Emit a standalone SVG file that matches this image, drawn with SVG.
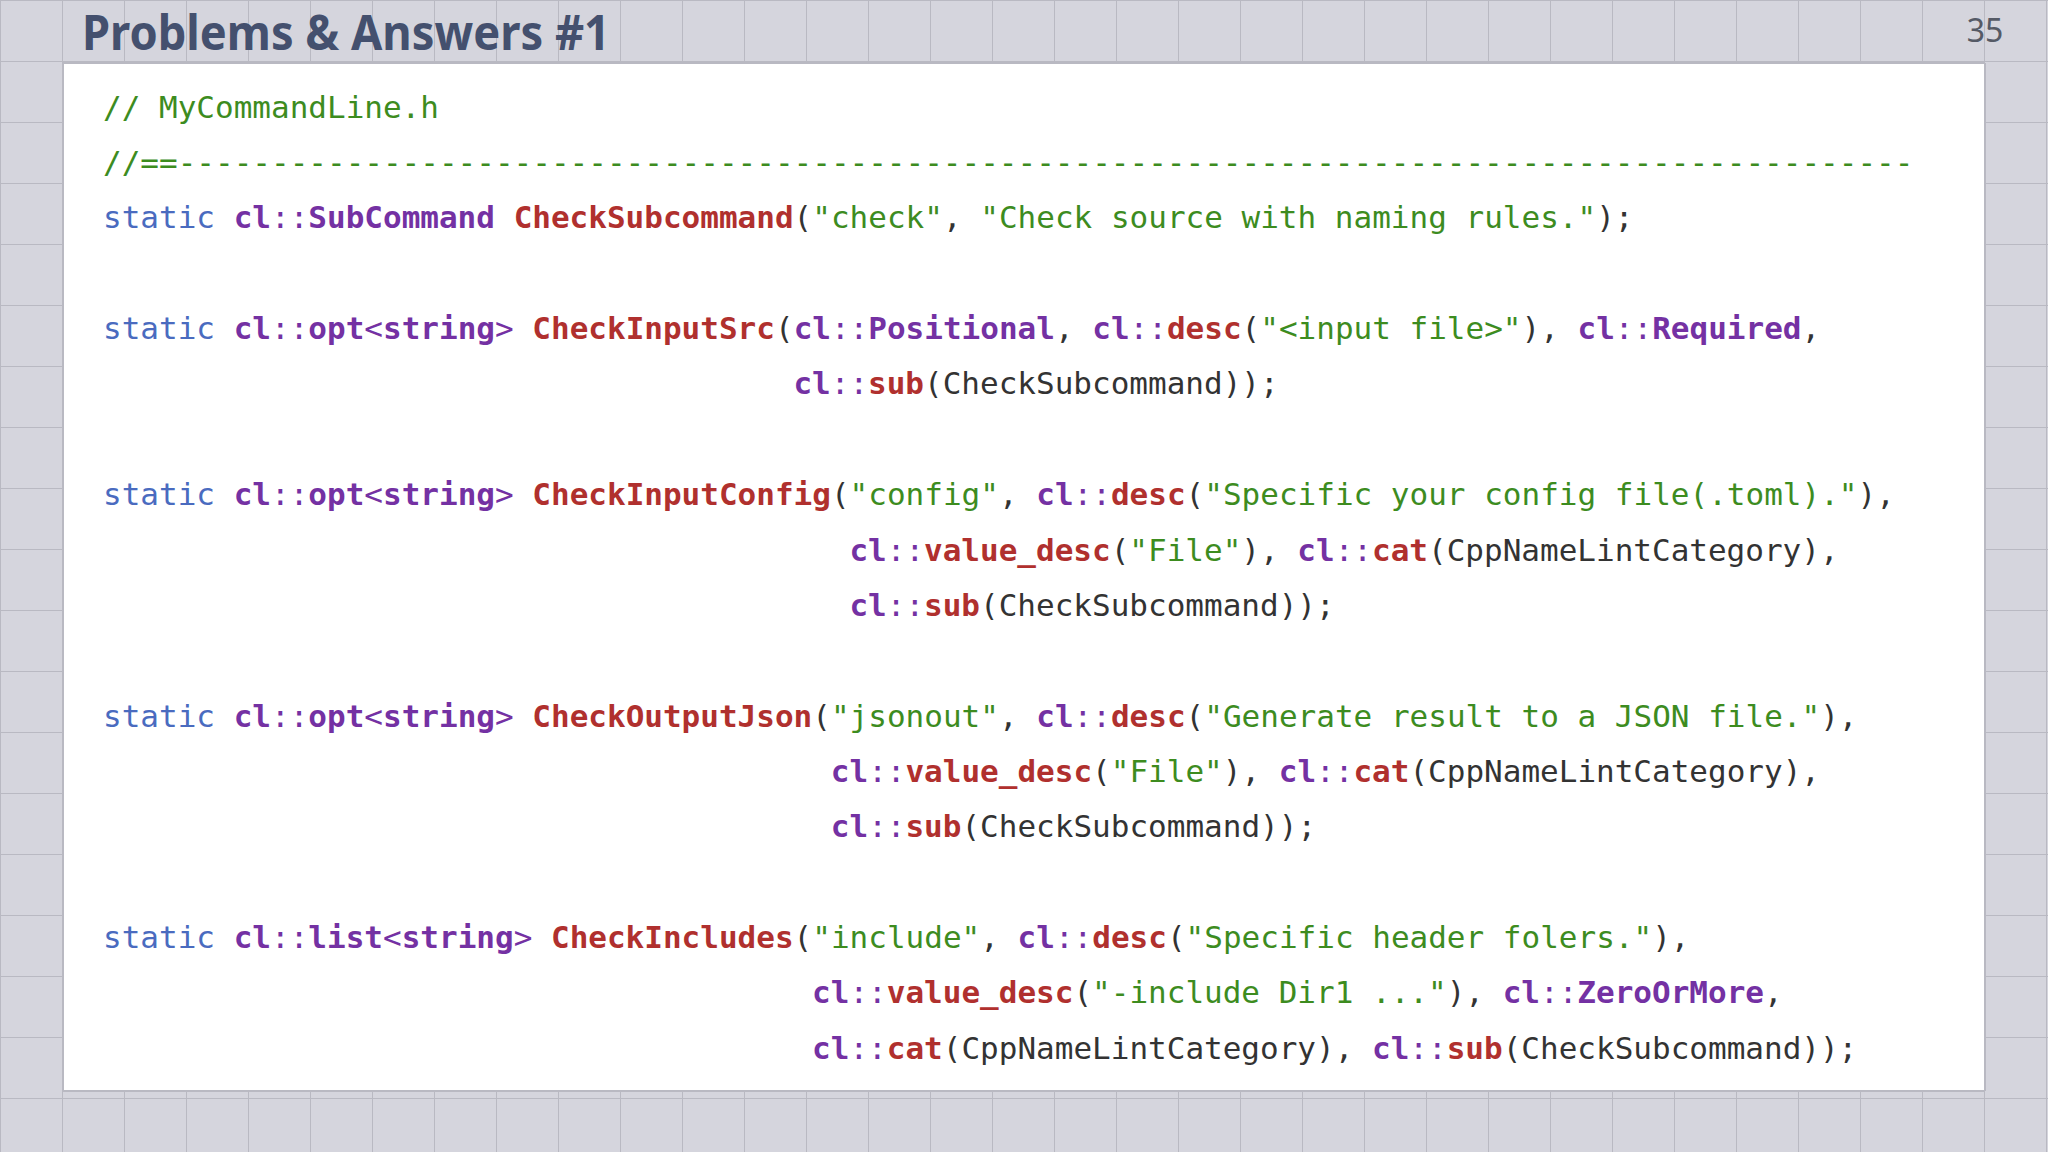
<svg xmlns="http://www.w3.org/2000/svg" width="2048" height="1152" viewBox="0 0 2048 1152">
<style>
.code{font-family:"DejaVu Sans Mono","Liberation Mono",monospace;font-size:31px;fill:#333;white-space:pre}
.k{fill:#4a6bbf}.n{fill:#7431a3;font-weight:bold}.p{fill:#7431a3}.f{fill:#b0302e;font-weight:bold}.s{fill:#3d8c1f}.c{fill:#3d8c1f}
.g{stroke:#b9b9c2;stroke-width:2}
</style>
<defs>
<pattern id="grid" width="62" height="61" patternUnits="userSpaceOnUse" x="1" y="1">
<rect width="62" height="61" fill="#d5d5dd"/>
<path d="M62 0V61M0 61H62" stroke="#b9b9c2" stroke-width="2" fill="none"/>
</pattern>
</defs>
<rect width="2048" height="1152" fill="url(#grid)"/>
<rect x="63" y="63" width="1922" height="1028" fill="#ffffff"/>
<line x1="63" y1="63" x2="1985" y2="63" class="g"/>
<line x1="63" y1="1091" x2="1985" y2="1091" class="g"/>
<line x1="63" y1="63" x2="63" y2="1091" class="g"/>
<line x1="1985" y1="63" x2="1985" y2="1091" class="g"/>
<g id="title">
<text x="82" y="50" font-family="Noto Sans, sans-serif" font-weight="bold" font-size="48" fill="#44506e" textLength="528" lengthAdjust="spacingAndGlyphs">Problems &amp; Answers #1</text>
<text x="1985" y="42" font-family="Noto Sans, sans-serif" font-size="32" fill="#555a66" text-anchor="middle">35</text>
</g>
<g id="code" class="code">
<text x="103" y="117.5"><tspan class="c">// MyCommandLine.h</tspan></text>
<text x="103" y="172.9"><tspan class="c">//==---------------------------------------------------------------------------------------------</tspan></text>
<text x="103" y="228.2"><tspan class="k">static</tspan> <tspan class="n">cl</tspan><tspan class="p">::</tspan><tspan class="n">SubCommand</tspan> <tspan class="f">CheckSubcommand</tspan>(<tspan class="s">"check"</tspan>, <tspan class="s">"Check source with naming rules."</tspan>);</text>
<text x="103" y="339"><tspan class="k">static</tspan> <tspan class="n">cl</tspan><tspan class="p">::</tspan><tspan class="n">opt</tspan><tspan class="p">&lt;</tspan><tspan class="n">string</tspan><tspan class="p">&gt;</tspan> <tspan class="f">CheckInputSrc</tspan>(<tspan class="n">cl</tspan><tspan class="p">::</tspan><tspan class="n">Positional</tspan>, <tspan class="n">cl</tspan><tspan class="p">::</tspan><tspan class="f">desc</tspan>(<tspan class="s">"&lt;input file&gt;"</tspan>), <tspan class="n">cl</tspan><tspan class="p">::</tspan><tspan class="n">Required</tspan>,</text>
<text x="793.4" y="394.4"><tspan class="n">cl</tspan><tspan class="p">::</tspan><tspan class="f">sub</tspan>(CheckSubcommand));</text>
<text x="103" y="505.1"><tspan class="k">static</tspan> <tspan class="n">cl</tspan><tspan class="p">::</tspan><tspan class="n">opt</tspan><tspan class="p">&lt;</tspan><tspan class="n">string</tspan><tspan class="p">&gt;</tspan> <tspan class="f">CheckInputConfig</tspan>(<tspan class="s">"config"</tspan>, <tspan class="n">cl</tspan><tspan class="p">::</tspan><tspan class="f">desc</tspan>(<tspan class="s">"Specific your config file(.toml)."</tspan>),</text>
<text x="849.4" y="560.5"><tspan class="n">cl</tspan><tspan class="p">::</tspan><tspan class="f">value_desc</tspan>(<tspan class="s">"File"</tspan>), <tspan class="n">cl</tspan><tspan class="p">::</tspan><tspan class="f">cat</tspan>(CppNameLintCategory),</text>
<text x="849.4" y="615.8"><tspan class="n">cl</tspan><tspan class="p">::</tspan><tspan class="f">sub</tspan>(CheckSubcommand));</text>
<text x="103" y="726.6"><tspan class="k">static</tspan> <tspan class="n">cl</tspan><tspan class="p">::</tspan><tspan class="n">opt</tspan><tspan class="p">&lt;</tspan><tspan class="n">string</tspan><tspan class="p">&gt;</tspan> <tspan class="f">CheckOutputJson</tspan>(<tspan class="s">"jsonout"</tspan>, <tspan class="n">cl</tspan><tspan class="p">::</tspan><tspan class="f">desc</tspan>(<tspan class="s">"Generate result to a JSON file."</tspan>),</text>
<text x="830.8" y="781.9"><tspan class="n">cl</tspan><tspan class="p">::</tspan><tspan class="f">value_desc</tspan>(<tspan class="s">"File"</tspan>), <tspan class="n">cl</tspan><tspan class="p">::</tspan><tspan class="f">cat</tspan>(CppNameLintCategory),</text>
<text x="830.8" y="837.3"><tspan class="n">cl</tspan><tspan class="p">::</tspan><tspan class="f">sub</tspan>(CheckSubcommand));</text>
<text x="103" y="948"><tspan class="k">static</tspan> <tspan class="n">cl</tspan><tspan class="p">::</tspan><tspan class="n">list</tspan><tspan class="p">&lt;</tspan><tspan class="n">string</tspan><tspan class="p">&gt;</tspan> <tspan class="f">CheckIncludes</tspan>(<tspan class="s">"include"</tspan>, <tspan class="n">cl</tspan><tspan class="p">::</tspan><tspan class="f">desc</tspan>(<tspan class="s">"Specific header folers."</tspan>),</text>
<text x="812.1" y="1003.4"><tspan class="n">cl</tspan><tspan class="p">::</tspan><tspan class="f">value_desc</tspan>(<tspan class="s">"-include Dir1 ..."</tspan>), <tspan class="n">cl</tspan><tspan class="p">::</tspan><tspan class="n">ZeroOrMore</tspan>,</text>
<text x="812.1" y="1058.7"><tspan class="n">cl</tspan><tspan class="p">::</tspan><tspan class="f">cat</tspan>(CppNameLintCategory), <tspan class="n">cl</tspan><tspan class="p">::</tspan><tspan class="f">sub</tspan>(CheckSubcommand));</text>
</g>
</svg>
